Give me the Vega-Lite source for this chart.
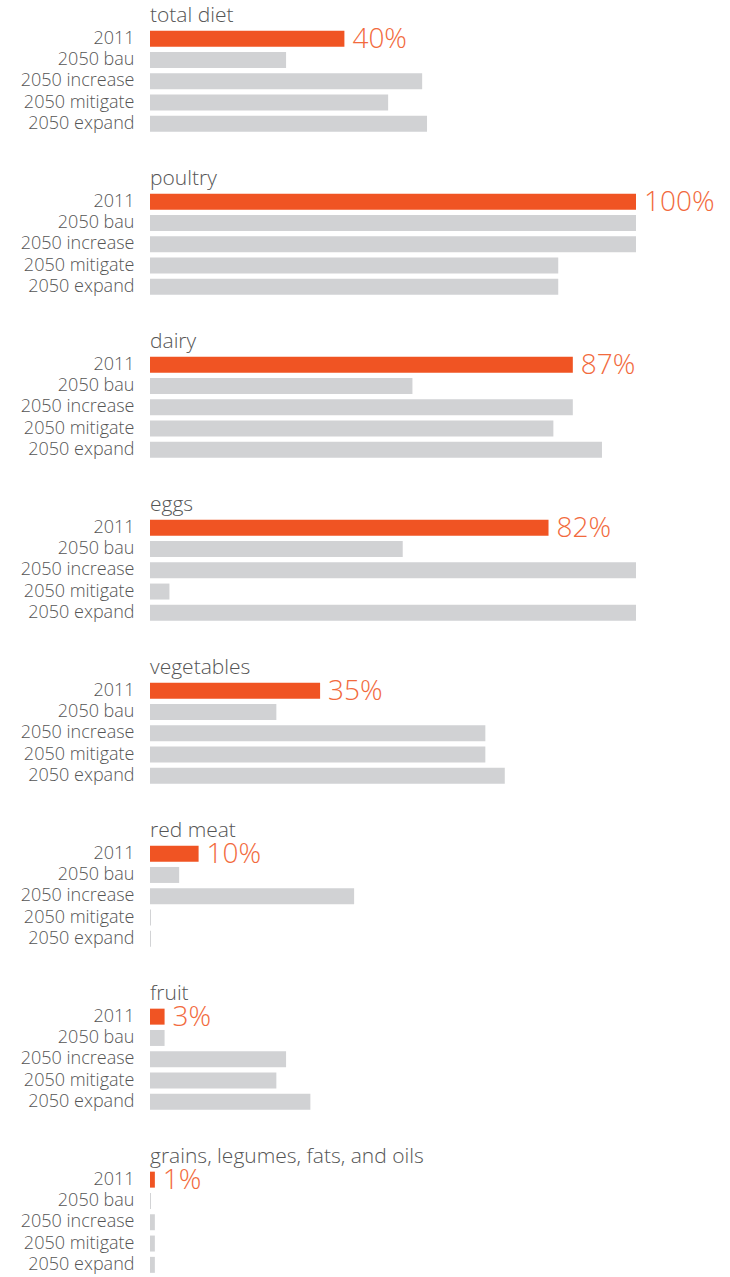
{
  "$schema": "https://vega.github.io/schema/vega-lite/v6.json",
  "padding": {"left": 0, "top": 4, "right": 0, "bottom": 0},
  "autosize": {"type": "pad"},
  "background": "white",
  "config": {"view": {"stroke": null}, "font": "Open Sans"},
  "data": {"values": [
    {"category": "total diet", "scenario": "2011", "value": 0.40},
    {"category": "total diet", "scenario": "2050 bau", "value": 0.28},
    {"category": "total diet", "scenario": "2050 increase", "value": 0.56},
    {"category": "total diet", "scenario": "2050 mitigate", "value": 0.49},
    {"category": "total diet", "scenario": "2050 expand", "value": 0.57},
    {"category": "poultry", "scenario": "2011", "value": 1.00},
    {"category": "poultry", "scenario": "2050 bau", "value": 1.00},
    {"category": "poultry", "scenario": "2050 increase", "value": 1.00},
    {"category": "poultry", "scenario": "2050 mitigate", "value": 0.84},
    {"category": "poultry", "scenario": "2050 expand", "value": 0.84},
    {"category": "dairy", "scenario": "2011", "value": 0.87},
    {"category": "dairy", "scenario": "2050 bau", "value": 0.54},
    {"category": "dairy", "scenario": "2050 increase", "value": 0.87},
    {"category": "dairy", "scenario": "2050 mitigate", "value": 0.83},
    {"category": "dairy", "scenario": "2050 expand", "value": 0.93},
    {"category": "eggs", "scenario": "2011", "value": 0.82},
    {"category": "eggs", "scenario": "2050 bau", "value": 0.52},
    {"category": "eggs", "scenario": "2050 increase", "value": 1.00},
    {"category": "eggs", "scenario": "2050 mitigate", "value": 0.04},
    {"category": "eggs", "scenario": "2050 expand", "value": 1.00},
    {"category": "vegetables", "scenario": "2011", "value": 0.35},
    {"category": "vegetables", "scenario": "2050 bau", "value": 0.26},
    {"category": "vegetables", "scenario": "2050 increase", "value": 0.69},
    {"category": "vegetables", "scenario": "2050 mitigate", "value": 0.69},
    {"category": "vegetables", "scenario": "2050 expand", "value": 0.73},
    {"category": "red meat", "scenario": "2011", "value": 0.10},
    {"category": "red meat", "scenario": "2050 bau", "value": 0.06},
    {"category": "red meat", "scenario": "2050 increase", "value": 0.42},
    {"category": "red meat", "scenario": "2050 mitigate", "value": 0.002},
    {"category": "red meat", "scenario": "2050 expand", "value": 0.002},
    {"category": "fruit", "scenario": "2011", "value": 0.03},
    {"category": "fruit", "scenario": "2050 bau", "value": 0.03},
    {"category": "fruit", "scenario": "2050 increase", "value": 0.28},
    {"category": "fruit", "scenario": "2050 mitigate", "value": 0.26},
    {"category": "fruit", "scenario": "2050 expand", "value": 0.33},
    {"category": "grains, legumes, fats, and oils", "scenario": "2011", "value": 0.01},
    {"category": "grains, legumes, fats, and oils", "scenario": "2050 bau", "value": 0.002},
    {"category": "grains, legumes, fats, and oils", "scenario": "2050 increase", "value": 0.01},
    {"category": "grains, legumes, fats, and oils", "scenario": "2050 mitigate", "value": 0.01},
    {"category": "grains, legumes, fats, and oils", "scenario": "2050 expand", "value": 0.01}
  ]},
  "columns": 1,
  "facet": {
    "field": "category", "type": "nominal",
    "sort": ["total diet", "poultry", "dairy", "eggs", "vegetables", "red meat", "fruit", "grains, legumes, fats, and oils"],
    "header": {"title": null, "labelFontSize": 21, "labelColor": "#555555", "labelAnchor": "start", "labelPadding": 0, "labelFont": "Open Sans", "labelFontWeight": 300}
  },
  "spacing": 32,
  "spec": {
    "width": 486,
    "height": 106.5,
    "encoding": {
      "y": {"field": "scenario", "type": "nominal", "sort": ["2011", "2050 bau", "2050 increase", "2050 mitigate", "2050 expand"],
        "scale": {"paddingInner": 0.25, "paddingOuter": 0.125},
        "axis": {"title": null, "domain": false, "ticks": false, "labelPadding": 16, "labelFontSize": 18, "labelColor": "#555555", "labelFont": "Open Sans", "labelFontWeight": 300, "minExtent": 150, "maxExtent": 150}},
      "x": {"field": "value", "type": "quantitative", "scale": {"domain": [0, 1], "nice": false, "zero": true}, "axis": null}
    },
    "layer": [
      {"mark": {"type": "bar"},
       "encoding": {"color": {"field": "scenario", "type": "nominal", "scale": {"domain": ["2011", "2050 bau", "2050 increase", "2050 mitigate", "2050 expand"], "range": ["#F05423", "#D1D2D4", "#D1D2D4", "#D1D2D4", "#D1D2D4"]}, "legend": null}}},
      {"transform": [{"filter": "datum.scenario === '2011'"}],
       "mark": {"type": "text", "align": "left", "baseline": "middle", "dx": 8, "dy": 1, "fontSize": 28, "color": "#F26A3D", "font": "Open Sans", "fontWeight": 300},
       "encoding": {"text": {"field": "value", "type": "quantitative", "format": ".0%"}}}
    ]
  }
}
